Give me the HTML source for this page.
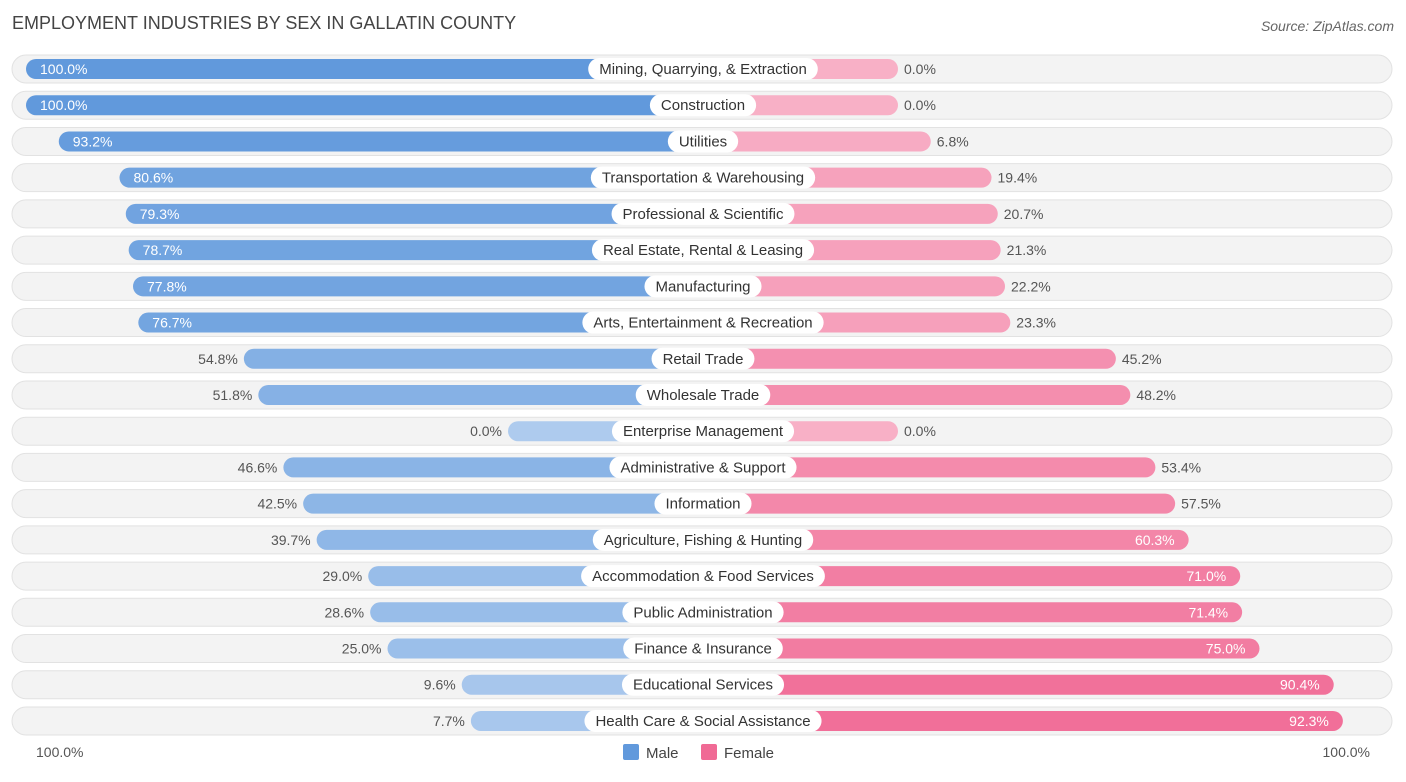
<!DOCTYPE html>
<html><head><meta charset="utf-8"><style>
body{margin:0;background:#fff;font-family:"Liberation Sans",sans-serif;}
</style></head><body>
<svg id="c" width="1406" height="777" xmlns="http://www.w3.org/2000/svg">
<text x="12" y="29" font-size="18" fill="#444">EMPLOYMENT INDUSTRIES BY SEX IN GALLATIN COUNTY</text>
<text x="1394" y="31" font-size="14" fill="#666" font-style="italic" text-anchor="end">Source: ZipAtlas.com</text>
<g id="rows"></g>
<text x="36" y="757" font-size="14" fill="#555">100.0%</text>
<text x="1370" y="757" font-size="14" fill="#555" text-anchor="end">100.0%</text>
<g>
<rect x="623" y="744" width="16" height="16" rx="2" fill="#6199dc"/>
<text x="646" y="758" font-size="15" fill="#444">Male</text>
<rect x="701" y="744" width="16" height="16" rx="2" fill="#f06a95"/>
<text x="724" y="758" font-size="15" fill="#444">Female</text>
</g>
</svg>
<script>
const categories=["Mining, Quarrying, & Extraction","Construction","Utilities","Transportation & Warehousing","Professional & Scientific","Real Estate, Rental & Leasing","Manufacturing","Arts, Entertainment & Recreation","Retail Trade","Wholesale Trade","Enterprise Management","Administrative & Support","Information","Agriculture, Fishing & Hunting","Accommodation & Food Services","Public Administration","Finance & Insurance","Educational Services","Health Care & Social Assistance"];
const maleValues=[100,100,93.2,80.6,79.3,78.7,77.8,76.7,54.8,51.8,0,46.6,42.5,39.7,29.0,28.6,25.0,9.6,7.7];
const femaleValues=[0,0,6.8,19.4,20.7,21.3,22.2,23.3,45.2,48.2,0,53.4,57.5,60.3,71.0,71.4,75.0,90.4,92.3];
const NS="http://www.w3.org/2000/svg";
const cx=703,minW=195,scale=4.82,y0=69,step=36.22;
function xm(v){return cx-minW-scale*v;}
function xf(v){return cx+minW+scale*v;}
function mix(a,b,t){const p=s=>[1,3,5].map(i=>parseInt(s.substr(i,2),16));const A=p(a),B=p(b);return "rgb("+A.map((x,i)=>Math.round(x+(B[i]-x)*t)).join(",")+")";}
function el(tag,attrs,parent){const e=document.createElementNS(NS,tag);for(const k in attrs)e.setAttribute(k,attrs[k]);parent.appendChild(e);return e;}
const g=document.getElementById("rows");
categories.forEach((cat,i)=>{
  const y=y0+i*step;
  const row=el("g",{},g);
  
  
  const bg=el("rect",{x:12,y:y-14,width:1380,height:28,rx:14,fill:"#f3f3f3",stroke:"#e2e2e2"},row);
  
  
  const m=maleValues[i],f=femaleValues[i];
  const mx=xm(m);
  const mb=el("rect",{x:mx,y:y-10,width:cx-mx,height:20,rx:10,fill:mix("#aecbee","#6199dc",m/100)},row);
  
  
  const fx=xf(f);
  const fb=el("rect",{x:cx,y:y-10,width:fx-cx,height:20,rx:10,fill:mix("#f8b0c6","#f06a95",f/100)},row);
  
  
  const mIn=m>=70;
  const mt=el("text",{x:mIn?mx+14:mx-6,y:y+5,"font-size":14,fill:mIn?"#fff":"#555","text-anchor":mIn?"start":"end"},row);
  mt.textContent=m.toFixed(1)+"%";
  
  
  const fIn=f>=60;
  const ft=el("text",{x:fIn?fx-14:fx+6,y:y+5,"font-size":14,fill:fIn?"#fff":"#555","text-anchor":fIn?"end":"start"},row);
  ft.textContent=f.toFixed(1)+"%";
  
  
  const lt=el("text",{x:cx,y:y+5,"font-size":15,fill:"#333","text-anchor":"middle"},row);
  lt.textContent=cat;
  
  
  const w=lt.getComputedTextLength()+22;
  const pill=el("rect",{x:cx-w/2,y:y-11,width:w,height:22,rx:11,fill:"#fff"},row);
  
  
  row.insertBefore(pill,lt);
});
</script>
</body></html>
